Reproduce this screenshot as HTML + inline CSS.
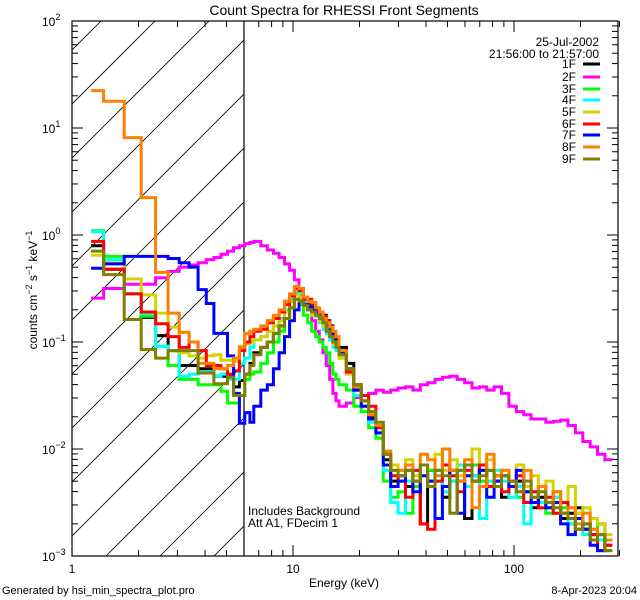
<!DOCTYPE html>
<html><head><meta charset="utf-8"><style>
body{margin:0;background:#fff;}
svg{display:block;font-family:"Liberation Sans",sans-serif;}
</style></head><body>
<svg id="chart" width="640" height="600" viewBox="0 0 640 600">
<rect width="640" height="600" fill="#fff"/>
<text x="344" y="15" font-size="14" text-anchor="middle">Count Spectra for RHESSI Front Segments</text>
<text x="344" y="587" font-size="12" text-anchor="middle">Energy (keV)</text>
<text transform="translate(37,290) rotate(-90)" font-size="12" text-anchor="middle">counts cm<tspan dy="-5" font-size="9">−2</tspan><tspan dy="5"> s</tspan><tspan dy="-5" font-size="9">−1</tspan><tspan dy="5"> keV</tspan><tspan dy="-5" font-size="9">−1</tspan></text>
<text x="2" y="594" font-size="11">Generated by hsi_min_spectra_plot.pro</text>
<text x="637" y="594" font-size="11" text-anchor="end">8-Apr-2023 20:04</text>
<text x="248" y="515" font-size="12">Includes Background</text>
<text x="248" y="527" font-size="12">Att A1, FDecim  1</text>
<text x="599" y="46" font-size="12" text-anchor="end">25-Jul-2002</text>
<text x="599" y="58" font-size="12" text-anchor="end">21:56:00 to 21:57:00</text>
</svg>
<script>
// Energy bin structure
const binStart = 1.22;
// Log10 count rate values per segment (73 bins each)
const seriesNames = ["1F","2F","3F","4F","5F","6F","7F","8F","9F"];
const seriesColors = ["#000000","#ff00ff","#00ff00","#00ffff","#d4d400","#ff0000","#0000ff","#ff8000","#808000"];
const lg1F = [-0.1,-0.32,-0.55,-0.77,-0.94,-1.08,-1.22,-1.22,-1.25,-1.25,-1.32,-1.32,-1.32,-1.42,-1.36,
 -1.3,-1.2,-1.1,-1.05,-1.0,-0.92,-0.85,-0.72,-0.62,-0.55,-0.56,-0.62,-0.65,-0.67,-0.7,-0.72,-0.75,-0.8,-0.85,-0.92,
 -0.98,-1.05,-1.2,-1.4,-1.55,-1.7,-1.8,-2.1,-2.3,
 -2.25,-2.35,-2.3,-2.7,-2.2,-2.3,-2.45,-2.2,-2.3,-2.65,-2.25,-2.2,-2.35,-2.3,-2.45,-2.35,-2.3,-2.4,-2.55,-2.45,-2.5,-2.4,-2.65,-2.6,-2.55,-2.75,-2.8,-2.7,-2.9];
const lg2F = [-0.59,-0.5,-0.46,-0.46,-0.4,-0.34,-0.3,-0.28,-0.26,-0.23,-0.21,-0.18,-0.15,-0.12,-0.1,
 -0.08,-0.07,-0.06,-0.1,-0.14,-0.17,-0.21,-0.27,-0.33,-0.42,-0.5,-0.6,-0.7,-0.8,-0.9,-0.98,-1.1,-1.22,-1.35,-1.48,
 -1.55,-1.6,-1.57,-1.52,-1.5,-1.48,-1.45,-1.47,-1.45,
 -1.43,-1.42,-1.45,-1.4,-1.38,-1.35,-1.33,-1.32,-1.35,-1.38,-1.43,-1.42,-1.45,-1.42,-1.48,-1.6,-1.65,-1.68,-1.72,-1.72,-1.75,-1.74,-1.73,-1.78,-1.85,-1.93,-1.98,-2.05,-2.1];
const lg3F = [0.04,-0.2,-0.55,-0.76,-1.04,-1.22,-1.35,-1.35,-1.4,-1.4,-1.4,-1.46,-1.57,-1.57,-1.5,
 -1.35,-1.3,-1.28,-1.2,-1.1,-1.0,-0.9,-0.78,-0.68,-0.6,-0.65,-0.75,-0.82,-0.9,-0.95,-1.0,-1.05,-1.1,-1.2,-1.3,
 -1.35,-1.4,-1.45,-1.6,-1.65,-1.8,-1.9,-2.3,-2.45,
 -2.4,-2.6,-2.35,-2.25,-2.2,-2.3,-2.15,-2.3,-2.2,-2.25,-2.15,-2.3,-2.2,-2.35,-2.25,-2.3,-2.45,-2.35,-2.4,-2.5,-2.6,-2.45,-2.55,-2.7,-2.6,-2.75,-2.65,-2.8,-2.95];
const lg4F = [0.03,-0.23,-0.55,-0.73,-1.04,-1.08,-1.32,-1.3,-1.28,-1.28,-1.32,-1.3,-1.35,-1.35,-1.2,
 -1.15,-1.05,-0.98,-0.95,-0.9,-0.85,-0.78,-0.7,-0.6,-0.53,-0.55,-0.63,-0.67,-0.72,-0.76,-0.82,-0.88,-0.92,-0.98,-1.05,
 -1.08,-1.15,-1.3,-1.5,-1.6,-1.75,-1.85,-2.2,-2.5,
 -2.6,-2.3,-2.2,-2.25,-2.35,-2.2,-2.4,-2.3,-2.15,-2.35,-2.25,-2.65,-2.3,-2.2,-2.3,-2.45,-2.35,-2.7,-2.4,-2.5,-2.55,-2.45,-2.6,-2.7,-2.65,-2.8,-2.75,-2.85,-2.9];
const lg5F = [-0.19,-0.26,-0.41,-0.56,-0.73,-0.86,-1.1,-1.13,-1.15,-1.13,-1.12,-1.17,-1.17,-1.18,-1.04,
 -1.02,-1.0,-0.98,-0.95,-0.9,-0.85,-0.8,-0.72,-0.62,-0.56,-0.58,-0.66,-0.7,-0.75,-0.75,-0.8,-0.85,-0.9,-0.95,-1.02,
 -1.05,-1.15,-1.3,-1.45,-1.55,-1.68,-1.8,-2.05,-2.15,
 -2.2,-2.1,-2.25,-2.15,-2.3,-2.05,-2.2,-2.1,-2.25,-2.15,-2.0,-2.2,-2.1,-2.25,-2.2,-2.3,-2.15,-2.35,-2.25,-2.4,-2.3,-2.4,-2.5,-2.35,-2.6,-2.55,-2.65,-2.7,-2.8];
const lg6F = [-0.06,-0.32,-0.55,-0.72,-0.83,-0.95,-1.05,-1.0,-1.08,-1.22,-1.22,-1.25,-1.3,-1.27,-1.08,
 -1.0,-0.95,-0.9,-0.88,-0.82,-0.78,-0.72,-0.65,-0.57,-0.5,-0.52,-0.6,-0.6,-0.64,-0.7,-0.73,-0.76,-0.8,-0.86,-0.92,
 -0.98,-1.1,-1.28,-1.45,-1.5,-1.6,-1.8,-2.05,-2.25,
 -2.3,-2.45,-2.2,-2.7,-2.75,-2.3,-2.15,-2.25,-2.4,-2.2,-2.3,-2.15,-2.35,-2.25,-2.4,-2.3,-2.25,-2.5,-2.4,-2.55,-2.45,-2.6,-2.5,-2.65,-2.75,-2.7,-2.8,-2.95,-2.9];
const lg7F = [-0.31,-0.27,-0.2,-0.2,-0.2,-0.22,-0.26,-0.3,-0.51,-0.64,-0.92,-0.92,-1.13,-1.48,-1.76,
 -1.66,-1.75,-1.6,-1.45,-1.4,-1.25,-1.1,-0.95,-0.8,-0.7,-0.62,-0.65,-0.67,-0.7,-0.72,-0.75,-0.78,-0.85,-0.9,-0.95,
 -1.0,-1.1,-1.25,-1.45,-1.6,-1.72,-1.85,-2.15,-2.35,
 -2.3,-2.2,-2.4,-2.25,-2.3,-2.65,-2.35,-2.2,-2.6,-2.25,-2.3,-2.2,-2.45,-2.3,-2.25,-2.35,-2.2,-2.4,-2.5,-2.35,-2.55,-2.5,-2.7,-2.8,-2.65,-2.75,-2.9,-2.95,-2.85];
const lg8F = [1.35,1.25,0.91,0.35,-0.35,-0.73,-0.91,-1.0,-1.2,-1.2,-1.25,-1.25,-1.22,-1.15,-1.05,
 -0.92,-0.9,-0.88,-0.85,-0.8,-0.75,-0.7,-0.62,-0.55,-0.48,-0.5,-0.58,-0.62,-0.63,-0.68,-0.72,-0.78,-0.82,-0.86,-0.9,
 -0.95,-1.08,-1.25,-1.42,-1.55,-1.68,-1.78,-2.02,-2.2,
 -2.2,-2.15,-2.3,-2.05,-2.1,-2.25,-2.0,-2.2,-2.3,-2.1,-2.55,-2.35,-2.05,-2.25,-2.2,-2.3,-2.4,-2.2,-2.45,-2.35,-2.5,-2.4,-2.6,-2.55,-2.7,-2.6,-2.75,-2.8,-2.85];
const lg9F = [-0.15,-0.37,-0.79,-1.07,-1.15,-1.08,-1.08,-1.08,-1.29,-1.29,-1.39,-1.39,-1.33,-1.5,-1.5,
 -1.3,-1.22,-1.12,-1.05,-1.0,-0.92,-0.85,-0.78,-0.68,-0.6,-0.62,-0.66,-0.7,-0.72,-0.75,-0.78,-0.82,-0.9,-0.95,-1.0,
 -1.05,-1.12,-1.25,-1.4,-1.55,-1.65,-1.75,-2.05,-2.2,
 -2.25,-2.2,-2.3,-2.15,-2.35,-2.2,-2.25,-2.6,-2.2,-2.15,-2.3,-2.25,-2.2,-2.35,-2.25,-2.3,-2.4,-2.3,-2.45,-2.4,-2.5,-2.55,-2.6,-2.65,-2.75,-2.7,-2.85,-2.8,-2.95];
const allSeries = [lg1F,lg2F,lg3F,lg4F,lg5F,lg6F,lg7F,lg8F,lg9F];
const xTickLabels = ["1","10","100"];
const yTickExponents = ["−3","−2","−1","0","1","2"];

const NS="http://www.w3.org/2000/svg";
const svg=document.getElementById('chart');
const L=72,R=618,T=21,B=556;
const xMinLog=0, xPx=221; const yMinLog=-3, yMaxLog=2;
function xs(e){return L+xPx*(Math.log10(e)-xMinLog);}
function ys(lg){return B-(lg-yMinLog)*(B-T)/(yMaxLog-yMinLog);}
function mk(tag,attrs){const el=document.createElementNS(NS,tag);for(const k in attrs)el.setAttribute(k,attrs[k]);svg.appendChild(el);return el;}

// bin edges
const edges=[binStart];
let e=1.39; edges.push(e);
while(e<6.1){e=+(e+1/3).toFixed(3);edges.push(e);}
e=6.15; while(e<16.1){e=+(e+0.5).toFixed(3);edges.push(e);}
e=16.15; while(edges.length<74){e=e*1.08;edges.push(e);}

// clip
const defs=document.createElementNS(NS,'defs');
defs.innerHTML='<clipPath id="pc"><rect x="'+L+'" y="'+T+'" width="'+(R-L)+'" height="'+(B-T)+'"/></clipPath><clipPath id="hc"><rect x="'+L+'" y="'+T+'" width="'+(xs(6)-L)+'" height="'+(B-T)+'"/></clipPath>';
svg.appendChild(defs);

// hatch
const hg=mk('g',{'clip-path':'url(#hc)'});


for(let c=-600;c<800;c+=54){
  const ln=document.createElementNS(NS,'line');
  ln.setAttribute('x1',c+L);ln.setAttribute('y1',B+40);ln.setAttribute('x2',c+L+600);ln.setAttribute('y2',B+40-600);
  ln.setAttribute('stroke','#000');ln.setAttribute('stroke-width','0.8');
  hg.appendChild(ln);
}
const vline=mk('line',{x1:xs(6),y1:T,x2:xs(6),y2:B,stroke:'#000','stroke-width':1.2});



// series
const sg=mk('g',{'clip-path':'url(#pc)'});
allSeries.forEach((vals,si)=>{
  let d='';
  for(let i=0;i<vals.length;i++){
    const x1=xs(edges[i]),x2=xs(edges[i+1]),y=ys(vals[i]);
    d+=(i===0?'M':'L')+x1.toFixed(1)+','+y.toFixed(1)+'L'+x2.toFixed(1)+','+y.toFixed(1);
  }
  const p=document.createElementNS(NS,'path');
  p.setAttribute('d',d);p.setAttribute('fill','none');p.setAttribute('stroke',seriesColors[si]);
  p.setAttribute('stroke-width','3');p.setAttribute('stroke-linejoin','miter');
  
  
  sg.appendChild(p);
});

// frame
const fr=mk('rect',{x:L,y:T,width:R-L,height:B-T,fill:'none',stroke:'#000','stroke-width':1.2});



// x ticks
for(let dec=0;dec<3;dec++){
  for(let m=1;m<10;m++){
    const v=m*Math.pow(10,dec); if(v>300)break;
    const x=xs(v); const len=m===1?11:6;
    mk('line',{x1:x,y1:B,x2:x,y2:B-len,stroke:'#000','stroke-width':1});
    mk('line',{x1:x,y1:T,x2:x,y2:T+len,stroke:'#000','stroke-width':1});
  }
  const t=mk('text',{x:xs(Math.pow(10,dec)),y:573,'font-size':12,'text-anchor':'middle'});
  t.textContent=xTickLabels[dec];
  
  
}
// y ticks
for(let k=yMinLog;k<=yMaxLog;k++){
  for(let m=1;m<10;m++){
    if(k===yMaxLog&&m>1)break;
    const y=ys(k+Math.log10(m)); const len=m===1?11:6;
    mk('line',{x1:L,y1:y,x2:L+len,y2:y,stroke:'#000','stroke-width':1});
    mk('line',{x1:R,y1:y,x2:R-len,y2:y,stroke:'#000','stroke-width':1});
  }
  const t=mk('text',{x:42,y:ys(k)+5,'font-size':12});
  t.innerHTML='10<tspan dy="-6" font-size="9">'+yTickExponents[k-yMinLog]+'</tspan>';
  
  
}
// legend
const legY=[64,77,89,100,112,124,135,147,159];
seriesNames.forEach((n,i)=>{
  const t=mk('text',{x:576,y:legY[i]+4,'font-size':12,'text-anchor':'end'});
  t.textContent=n;
  
  
  const l=mk('line',{x1:583,y1:legY[i],x2:600,y2:legY[i],stroke:seriesColors[i],'stroke-width':3});
  
  
});
</script>
</body></html>
